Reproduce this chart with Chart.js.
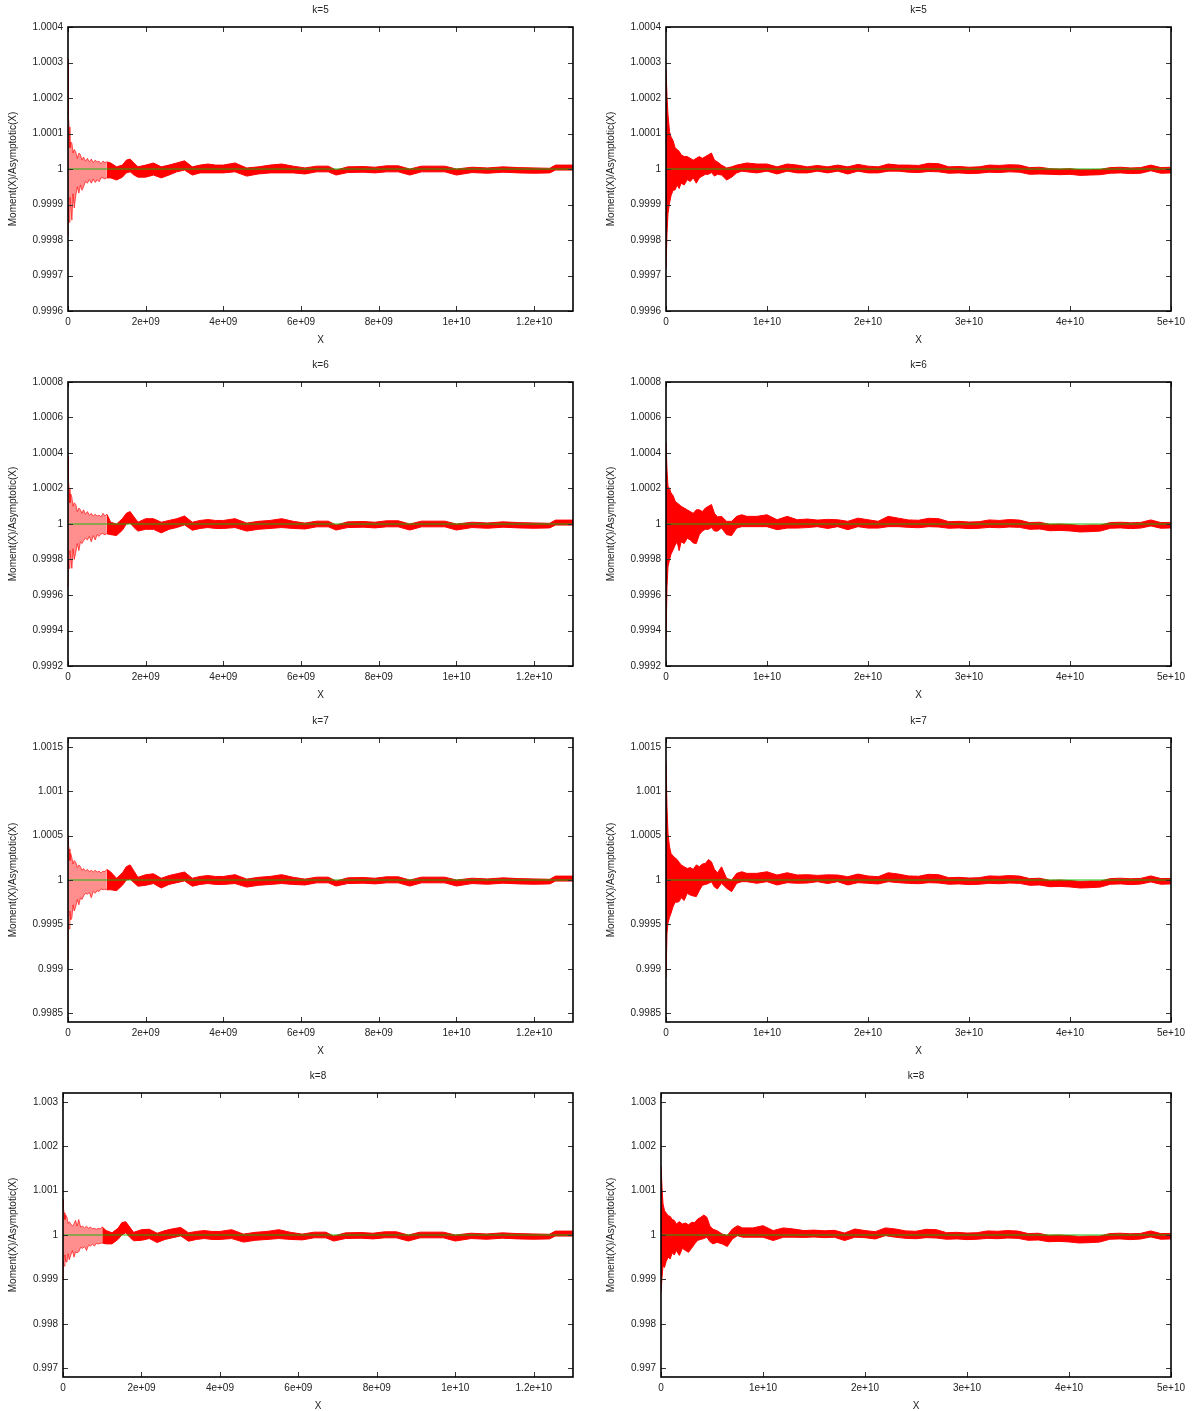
<!DOCTYPE html>
<html lang="en">
<head>
  <meta charset="UTF-8">
  <title>Moment(X)/Asymptotic(X)</title>
  <script src="https://cdn.jsdelivr.net/npm/chart.js"></script>
  <style>
    body {
      margin: 0;
      width: 1196px;
      height: 1411px;
      overflow: hidden;
      position: relative;
      background: #fff;
    }
    .panel {
      position: absolute;
      width: 598px;
      height: 355px;
    }
  </style>
</head>
<body>
  <script>
    // ---------------- axes ---------------- //
    const leftTicks = [0, 2e9, 4e9, 6e9, 8e9, 1e10, 1.2e10];
    const leftTickLabels = ['0', '2e+09', '4e+09', '6e+09', '8e+09', '1e+10', '1.2e+10'];
    const rightTicks = [0, 1e10, 2e10, 3e10, 4e10, 5e10];
    const rightTickLabels = ['0', '1e+10', '2e+10', '3e+10', '4e+10', '5e+10'];

    const k5Ticks = [0.9996, 0.9997, 0.9998, 0.9999, 1, 1.0001, 1.0002, 1.0003, 1.0004];
    const k6Ticks = [0.9992, 0.9994, 0.9996, 0.9998, 1, 1.0002, 1.0004, 1.0006, 1.0008];
    const k7Ticks = [0.9985, 0.999, 0.9995, 1, 1.0005, 1.001, 1.0015];
    const k8Ticks = [0.997, 0.998, 0.999, 1, 1.001, 1.002, 1.003];

    const leftEarlyX = [0, 1e7, 3e7, 5e7, 7e7, 1e8, 1.3e8, 1.6e8, 2e8, 2.4e8, 2.8e8, 3.2e8, 3.6e8,
      4e8, 4.5e8, 5e8, 5.5e8, 6e8, 6.5e8, 7e8, 7.5e8, 8e8, 8.5e8, 9e8, 9.5e8, 1e9];
    const leftBandX = [1e9, 1.1e9, 1.25e9, 1.4e9, 1.5e9, 1.6e9, 1.7e9, 1.8e9,
      2e9, 2.2e9, 2.4e9, 2.6e9, 2.8e9, 3e9, 3.2e9, 3.4e9, 3.6e9, 3.8e9, 4e9,
      4.3e9, 4.6e9, 4.9e9, 5.2e9, 5.5e9, 5.8e9, 6.1e9, 6.4e9, 6.7e9,
      6.9e9, 7.2e9, 7.6e9, 7.9e9, 8.2e9, 8.5e9, 8.8e9, 9.1e9, 9.4e9, 9.7e9, 1e10,
      1.04e10, 1.08e10, 1.12e10, 1.16e10, 1.2e10, 1.24e10, 1.255e10, 1.28e10, 1.3e10];
    const rightEarlyX = [0, 1e8, 2e8, 3.5e8, 5e8, 7e8, 9e8, 1.1e9, 1.3e9, 1.5e9, 1.8e9,
      2.1e9, 2.4e9, 2.7e9, 3e9, 3.3e9, 3.6e9, 3.9e9, 4.2e9, 4.5e9, 4.8e9, 5.1e9];
    const rightBandX = [5.1e9, 5.5e9, 6e9, 6.5e9, 7e9, 7.5e9, 8e9,
      9e9, 1e10, 1.1e10, 1.2e10, 1.3e10, 1.4e10, 1.5e10, 1.6e10, 1.7e10, 1.8e10,
      1.9e10, 2e10, 2.1e10, 2.2e10, 2.3e10,
      2.4e10, 2.5e10, 2.6e10, 2.7e10, 2.8e10, 2.9e10, 3e10, 3.1e10, 3.2e10, 3.3e10, 3.4e10, 3.5e10,
      3.6e10, 3.7e10, 3.8e10, 3.9e10, 4e10, 4.1e10, 4.2e10, 4.3e10,
      4.4e10, 4.5e10, 4.6e10, 4.7e10, 4.8e10, 4.9e10, 5e10];

    // ---------------- red points: highest / lowest value per slot ---------------- //
    // given as deviation from 1 in parts per million
    const k5LeftEarlyHi = [310, 150, 118, 60, 76, 73, 45, 55, 48, 30, 45, 40, 25, 34, 22, 30, 20, 28, 18, 25, 20, 22, 15, 22, 18, 20];
    const k5LeftEarlyLo = [-190, -100, -150, -80, -107, -144, -70, -110, -75, -50, -68, -45, -60, -50, -35, -40, -30, -40, -28, -38, -30, -36, -25, -25, -28, -25];
    const k5LeftBandHi = [20, 17, 6, 11, 25, 28, 17, 6, 11, 17, 6, 11, 17, 23, 6, 11, 14, 11, 11,
      17, 3, 6, 11, 14, 8, 3, 8, 8, -3, 6, 7, 5, 9, 9, 0, 8, 8, 8, 0, 5, 3, 6, 4, 3, 2, 11, 11, 11];
    const k5LeftBandLo = [-25, -25, -31, -23, -11, -8, -17, -23, -23, -17, -25, -17, -8, -3, -17, -11, -11, -11, -11,
      -8, -20, -14, -11, -11, -11, -14, -8, -8, -17, -10, -9, -11, -8, -8, -17, -8, -8, -8, -17, -10, -12, -9, -11, -12, -11, -3, -3, -3];

    const k6LeftEarlyHi = [380, 250, 200, 120, 170, 150, 100, 120, 110, 70, 90, 80, 60, 80, 55, 70, 50, 60, 45, 55, 45, 50, 40, 60, 45, 55];
    const k6LeftEarlyLo = [-350, -200, -250, -150, -200, -250, -140, -200, -160, -110, -150, -100, -110, -95, -80, -90, -70, -100, -65, -90, -60, -70, -55, -55, -60, -55];
    const k6LeftBandHi = [55, 10, 0, 30, 60, 70, 40, 10, 30, 30, 10, 20, 30, 45, 10, 20, 25, 20, 20,
      30, 5, 15, 20, 30, 15, 5, 16, 16, -6, 12, 14, 10, 18, 18, 0, 16, 16, 16, 0, 10, 6, 12, 8, 6, 4, 22, 22, 22];
    const k6LeftBandLo = [-55, -60, -65, -35, 0, 5, -20, -40, -30, -30, -50, -30, -20, -5, -35, -25, -20, -25, -25,
      -20, -40, -30, -25, -20, -25, -28, -16, -16, -34, -20, -18, -22, -16, -16, -34, -16, -16, -16, -34, -20, -24, -18, -22, -24, -22, -6, -6, -6];

    const k7LeftEarlyHi = [500, 400, 350, 220, 300, 250, 180, 220, 200, 140, 170, 150, 110, 130, 100, 120, 95, 110, 90, 110, 90, 100, 80, 100, 95, 120];
    const k7LeftEarlyLo = [-900, -500, -550, -350, -450, -425, -280, -350, -300, -220, -280, -200, -220, -180, -150, -160, -140, -200, -130, -150, -120, -130, -100, -110, -105, -110];
    const k7LeftBandHi = [120, 90, 20, 80, 150, 170, 100, 30, 60, 70, 20, 50, 70, 90, 20, 40, 50, 40, 40,
      60, 10, 30, 40, 60, 30, 10, 32, 32, -12, 24, 28, 20, 36, 36, 0, 32, 32, 32, 0, 20, 12, 24, 16, 12, 8, 44, 44, 44];
    const k7LeftBandLo = [-110, -110, -120, -60, 0, 10, -30, -70, -60, -40, -90, -50, -30, -10, -70, -50, -40, -50, -50,
      -40, -80, -60, -50, -40, -50, -56, -32, -32, -68, -40, -36, -44, -32, -32, -68, -32, -32, -32, -68, -40, -48, -36, -44, -48, -44, -12, -12, -12];

    const k8LeftEarlyHi = [800, 600, 500, 350, 450, 400, 260, 300, 250, 200, 250, 330, 200, 350, 180, 200, 160, 200, 150, 180, 140, 150, 130, 150, 140, 180];
    const k8LeftEarlyLo = [-990, -600, -700, -450, -600, -610, -420, -560, -450, -350, -500, -380, -400, -380, -280, -300, -260, -350, -230, -250, -210, -250, -190, -200, -190, -180];
    const k8LeftBandHi = [180, 100, 50, 150, 280, 300, 180, 60, 120, 130, 40, 100, 140, 170, 50, 80, 100, 80, 80,
      120, 20, 60, 80, 120, 60, 20, 64, 64, -24, 48, 56, 40, 72, 72, 0, 64, 64, 64, 0, 40, 24, 48, 32, 24, 16, 88, 88, 88];
    const k8LeftBandLo = [-180, -200, -200, -100, 0, 50, -50, -130, -120, -80, -170, -100, -60, -20, -140, -100, -80, -100, -100,
      -80, -160, -120, -100, -80, -100, -110, -64, -64, -136, -80, -72, -88, -64, -64, -136, -64, -64, -64, -136, -80, -96, -72, -88, -96, -88, -24, -24, -24];

    const k5RightEarlyHi = [280, 204, 152, 105, 90, 80, 60, 55, 50, 40, 35, 35, 30, 25, 30, 35, 30, 35, 40, 45, 25, 20];
    const k5RightEarlyLo = [-280, -181, -125, -96, -75, -60, -59, -45, -55, -40, -45, -30, -35, -25, -40, -25, -20, -15, -15, -10, -20, -15];
    const k5RightBandHi = [20, 11, 3, 6, 11, 14, 17, 14, 14, 6, 14, 11, 6, 10, 6, 11, 6, 13, 8, 6, 14, 11,
      11, 10, 16, 15, 6, 7, 5, 6, 11, 10, 12, 11, 4, 5, 1, 0, 1, -2, -2, -1, 4, 5, 3, 4, 11, 4, 5];
    const k5RightBandLo = [-15, -17, -31, -23, -11, -6, -8, -11, -6, -14, -6, -11, -11, -6, -11, -6, -14, -6, -11, -11, -6, -6,
      -9, -10, -7, -8, -12, -11, -13, -12, -9, -10, -8, -9, -15, -14, -15, -16, -15, -18, -17, -16, -12, -11, -13, -12, -5, -12, -11];

    const k6RightEarlyHi = [463, 304, 212, 200, 175, 160, 130, 118, 110, 100, 90, 80, 70, 60, 80, 80, 70, 90, 100, 110, 60, 40];
    const k6RightEarlyLo = [-650, -353, -240, -202, -170, -146, -120, -100, -150, -100, -110, -80, -90, -107, -110, -60, -40, -30, -30, -20, -40, -40];
    const k6RightBandHi = [40, 43, 15, 15, 43, 52, 43, 43, 52, 24, 43, 24, 28, 22, 26, 24, 15, 33, 24, 15, 43, 33,
      23, 21, 32, 30, 13, 15, 11, 13, 23, 20, 25, 22, 8, 10, -2, 0, -3, -8, -6, -6, 8, 10, 7, 9, 23, 8, 9];
    const k6RightBandLo = [-40, -23, -60, -65, -23, -15, -15, -15, -15, -32, -23, -23, -20, -15, -25, -15, -32, -15, -23, -23, -15, -15,
      -19, -21, -15, -17, -24, -22, -26, -24, -19, -21, -17, -19, -30, -28, -38, -36, -39, -45, -43, -40, -24, -22, -26, -23, -11, -24, -22];

    const k7RightEarlyHi = [1340, 821, 523, 373, 299, 270, 250, 230, 200, 170, 149, 130, 140, 120, 170, 150, 180, 187, 230, 205, 120, 80];
    const k7RightEarlyLo = [-1100, -597, -485, -420, -373, -300, -250, -250, -243, -200, -230, -150, -170, -180, -187, -120, -60, -50, -40, -20, -80, -100];
    const k7RightBandHi = [80, 149, 19, 0, 75, 93, 75, 75, 93, 56, 82, 56, 60, 52, 58, 56, 37, 67, 45, 37, 82, 67,
      46, 42, 64, 60, 26, 30, 22, 26, 46, 42, 50, 44, 16, 20, -4, 0, -6, -16, -12, -12, 16, 20, 14, 18, 46, 16, 18];
    const k7RightBandLo = [-100, -37, -93, -131, -37, -19, -19, -37, -19, -56, -30, -37, -34, -19, -40, -19, -56, -30, -37, -45, -19, -30,
      -38, -42, -30, -34, -48, -44, -52, -48, -38, -42, -34, -38, -60, -56, -76, -72, -78, -90, -86, -80, -48, -44, -52, -46, -22, -48, -44];

    const k8RightEarlyHi = [1550, 1070, 700, 545, 500, 435, 420, 350, 330, 250, 300, 250, 270, 230, 285, 280, 360, 400, 450, 400, 200, 130];
    const k8RightEarlyLo = [-1300, -950, -700, -730, -600, -500, -540, -400, -450, -350, -460, -300, -350, -390, -300, -200, -120, -100, -80, -50, -150, -200];
    const k8RightBandHi = [130, 97, 22, -10, 135, 210, 160, 160, 210, 100, 160, 135, 100, 110, 95, 105, 45, 135, 100, 75, 160, 135,
      92, 84, 128, 120, 52, 60, 44, 52, 92, 84, 100, 88, 32, 40, -8, 0, -12, -32, -24, -24, 32, 40, 28, 36, 92, 32, 36];
    const k8RightBandLo = [-200, -166, -200, -260, -90, -15, -50, -50, -50, -125, -50, -50, -55, -45, -60, -50, -125, -50, -60, -90, -15, -50,
      -76, -84, -60, -68, -96, -88, -104, -96, -76, -84, -68, -76, -120, -112, -152, -144, -156, -180, -172, -160, -96, -88, -104, -92, -44, -96, -88];

    // the green curve: Asymptotic/Asymptotic
    const referenceLevel = 1;

    // ---------------- panels ---------------- //
    const RED = '#ff0000';
    const GREEN = 'rgba(0, 190, 0, 0.9)';
    const rowTop = [0, 355, 711, 1066];
    const colLeft = [0, 598];

    const panels = [
      { title: 'k=5', row: 0, col: 0, yMin: 0.9996, yMax: 1.0004, yTicks: k5Ticks, early: [k5LeftEarlyLo, k5LeftEarlyHi], band: [k5LeftBandLo, k5LeftBandHi] },
      { title: 'k=5', row: 0, col: 1, yMin: 0.9996, yMax: 1.0004, yTicks: k5Ticks, early: [k5RightEarlyLo, k5RightEarlyHi], band: [k5RightBandLo, k5RightBandHi] },
      { title: 'k=6', row: 1, col: 0, yMin: 0.9992, yMax: 1.0008, yTicks: k6Ticks, early: [k6LeftEarlyLo, k6LeftEarlyHi], band: [k6LeftBandLo, k6LeftBandHi] },
      { title: 'k=6', row: 1, col: 1, yMin: 0.9992, yMax: 1.0008, yTicks: k6Ticks, early: [k6RightEarlyLo, k6RightEarlyHi], band: [k6RightBandLo, k6RightBandHi] },
      { title: 'k=7', row: 2, col: 0, yMin: 0.9984, yMax: 1.0016, yTicks: k7Ticks, early: [k7LeftEarlyLo, k7LeftEarlyHi], band: [k7LeftBandLo, k7LeftBandHi] },
      { title: 'k=7', row: 2, col: 1, yMin: 0.9984, yMax: 1.0016, yTicks: k7Ticks, early: [k7RightEarlyLo, k7RightEarlyHi], band: [k7RightBandLo, k7RightBandHi] },
      { title: 'k=8', row: 3, col: 0, yMin: 0.9968, yMax: 1.0032, yTicks: k8Ticks, early: [k8LeftEarlyLo, k8LeftEarlyHi], band: [k8LeftBandLo, k8LeftBandHi] },
      { title: 'k=8', row: 3, col: 1, yMin: 0.9968, yMax: 1.0032, yTicks: k8Ticks, early: [k8RightEarlyLo, k8RightEarlyHi], band: [k8RightBandLo, k8RightBandHi] }
    ];

    Chart.defaults.font.family = '"Liberation Sans", Arial, sans-serif';
    Chart.defaults.font.size = 10;
    Chart.defaults.color = '#222';

    // gnuplot style box with inward tics on all four sides
    const framePlugin = {
      id: 'frame',
      afterDatasetsDraw(chart) {
        const { ctx, chartArea: a, scales } = chart;
        ctx.save();
        ctx.strokeStyle = '#333';
        ctx.lineWidth = 1;
        ctx.beginPath();
        scales.x.ticks.forEach(t => {
          const px = Math.round(scales.x.getPixelForValue(t.value)) + 0.5;
          ctx.moveTo(px, a.bottom); ctx.lineTo(px, a.bottom - 5);
          ctx.moveTo(px, a.top); ctx.lineTo(px, a.top + 5);
        });
        scales.y.ticks.forEach(t => {
          const py = Math.round(scales.y.getPixelForValue(t.value)) + 0.5;
          ctx.moveTo(a.left, py); ctx.lineTo(a.left + 5, py);
          ctx.moveTo(a.right, py); ctx.lineTo(a.right - 5, py);
        });
        ctx.stroke();
        ctx.strokeStyle = '#000';
        ctx.lineWidth = 1.6;
        ctx.strokeRect(a.left, a.top, a.right - a.left, a.bottom - a.top);
        ctx.restore();
      }
    };

    function toPoints(xs, ppm) {
      return xs.map((x, i) => ({ x: x, y: 1 + ppm[i] / 1e6 }));
    }

    function redDatasets(p, left) {
      const earlyX = left ? leftEarlyX : rightEarlyX;
      const bandX = left ? leftBandX : rightBandX;
      const lo = toPoints(earlyX, p.early[0]);
      const hi = toPoints(earlyX, p.early[1]);
      const bandLo = toPoints(bandX, p.band[0]);
      const bandHi = toPoints(bandX, p.band[1]);
      if (!left) {
        // one continuous envelope, so no seam between the two parts
        return [
          { data: lo.concat(bandLo.slice(1)), borderColor: RED, borderWidth: 1, fill: false, order: 1 },
          { data: hi.concat(bandHi.slice(1)), borderColor: RED, borderWidth: 1, backgroundColor: RED, fill: '-1', order: 1 }
        ];
      }
      // left column: the first 1e9 is a loose cloud of points
      return [
        { data: bandLo, borderColor: RED, borderWidth: 1, fill: false, order: 1 },
        { data: bandHi, borderColor: RED, borderWidth: 1, backgroundColor: RED, fill: '-1', order: 1 },
        { data: lo, borderColor: 'rgba(255, 0, 0, 0.8)', borderWidth: 0.8, fill: false, order: 2 },
        { data: hi, borderColor: 'rgba(255, 0, 0, 0.8)', borderWidth: 0.8, backgroundColor: 'rgba(255, 30, 30, 0.5)', fill: '-1', order: 2 }
      ];
    }

    panels.forEach(p => {
      const left = p.col === 0;
      const xMax = left ? 1.3e10 : 5e10;
      const xTicks = left ? leftTicks : rightTicks;
      const xLabels = left ? leftTickLabels : rightTickLabels;
      const plotLeft = p.row === 3 ? 63 : 68;

      const div = document.createElement('div');
      div.className = 'panel';
      div.style.left = colLeft[p.col] + 'px';
      div.style.top = rowTop[p.row] + 'px';
      const canvas = document.createElement('canvas');
      canvas.width = 598;
      canvas.height = 355;
      div.appendChild(canvas);
      document.body.appendChild(div);

      new Chart(canvas.getContext('2d'), {
        type: 'line',
        data: {
          datasets: [
            { data: [{ x: 0, y: referenceLevel }, { x: xMax, y: referenceLevel }], borderColor: GREEN, borderWidth: 1.2, fill: false, order: 0 }
          ].concat(redDatasets(p, left))
        },
        options: {
          responsive: false,
          animation: false,
          events: [],
          layout: { padding: { left: 0, right: 25, top: 0, bottom: 0 } },
          elements: { point: { radius: 0 }, line: { tension: 0 } },
          plugins: {
            legend: { display: false },
            tooltip: { enabled: false },
            title: {
              display: true,
              text: p.title,
              fullSize: false,
              padding: { top: 4, bottom: 11 },
              font: { size: 10, weight: 'normal' },
              color: '#222'
            }
          },
          scales: {
            x: {
              type: 'linear',
              min: 0,
              max: xMax,
              grid: { display: false, drawTicks: false },
              border: { display: false },
              afterBuildTicks: s => { s.ticks = xTicks.map(v => ({ value: v })); },
              afterFit: s => { s.height = 44; },
              ticks: { autoSkip: false, maxRotation: 0, padding: 5, callback: (v, i) => xLabels[i] },
              title: { display: true, text: 'X', padding: { top: 0, bottom: 9 } }
            },
            y: {
              min: p.yMin,
              max: p.yMax,
              grid: { display: false, drawTicks: false },
              border: { display: false },
              afterBuildTicks: s => { s.ticks = p.yTicks.map(v => ({ value: v })); },
              afterFit: s => { s.width = plotLeft; },
              ticks: { autoSkip: false, padding: 5, callback: v => String(v) },
              title: { display: true, text: 'Moment(X)/Asymptotic(X)', padding: { top: 7, bottom: 0 } }
            }
          }
        },
        plugins: [framePlugin]
      });
    });
  </script>
</body>
</html>
